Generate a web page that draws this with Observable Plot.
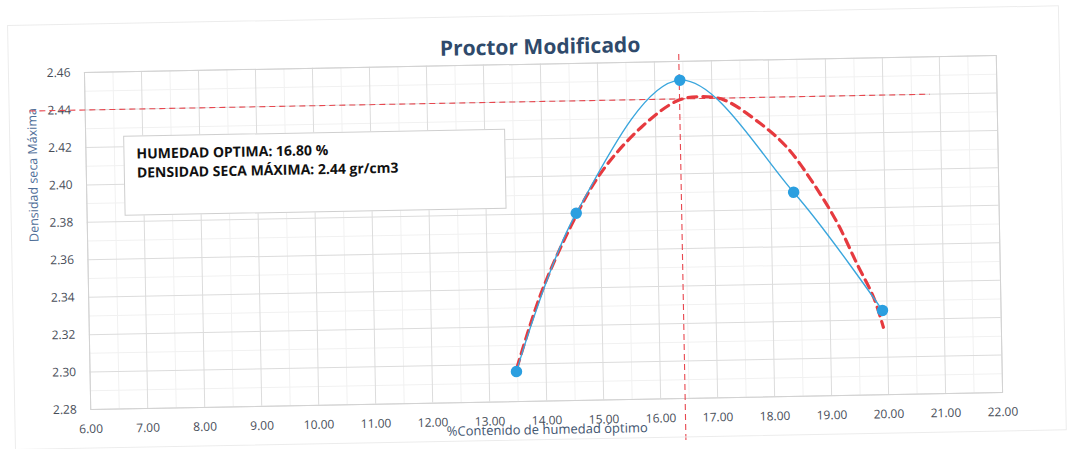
<!DOCTYPE html>
<html>
<head>
<meta charset="utf-8">
<script src="https://cdn.jsdelivr.net/npm/d3@7"></script>
<script src="https://cdn.jsdelivr.net/npm/@observablehq/plot@0.6"></script>
<style>
  html, body { margin: 0; padding: 0; background: #ffffff; overflow: hidden; }
  #wrap { position: relative; width: 1072px; height: 449px; transform: rotate(-1.07deg); transform-origin: 544px 231.5px; font-family: "Open Sans", sans-serif; }
  #chart svg { display: block; }
  #outer { position: absolute; left: 11px; top: 15px; width: 1050px; height: 423px; border: 1px solid #ececec; pointer-events: none; }
  #box { position: absolute; left: 125px; top: 128px; width: 382px; height: 80px; border: 1px solid #cfcfcf; background: #ffffff; box-sizing: border-box; padding: 7px 0 0 12px; font-family: "Open Sans", sans-serif; font-weight: 700; font-size: 14px; line-height: 19px; color: #111111; }
</style>
</head>
<body>
<div id="wrap">
  <div id="outer"></div>
  <div id="chart"></div>
  <div id="box"><div id="l1"></div><div id="l2"></div></div>
</div>
<script>
// Measured points (blue)
const humedad = [13.48, 14.58, 16.44, 18.40, 19.92];
const densidad = [2.296, 2.380, 2.450, 2.389, 2.325];

// Fitted curve (red dashed)
const ajusteX = [13.49, 13.93, 14.48, 15.02, 15.74, 16.39, 16.80, 17.21, 17.84, 18.30, 18.76, 19.16, 19.49, 19.77, 19.93];
const ajusteY = [2.298, 2.337, 2.373, 2.401, 2.425, 2.439, 2.441, 2.439, 2.426, 2.413, 2.393, 2.372, 2.350, 2.332, 2.316];

// Reference lines
const refDensidad = [2.44];
const refDensidadX = [5.03, 20.83];
const refHumedad = [16.43];
const refHumedadY = [2.2575, 2.4658];

// Results
const humedadOptima = 16.80;
const densidadMaxima = 2.44;

// Tick labels
const xTicks = [6, 7, 8, 9, 10, 11, 12, 13, 14, 15, 16, 17, 18, 19, 20, 21, 22];
const yTicks = [2.28, 2.30, 2.32, 2.34, 2.36, 2.38, 2.40, 2.42, 2.44, 2.46];
const xMinor = [6.5, 7.5, 8.5, 9.5, 10.5, 11.5, 12.5, 13.5, 14.5, 15.5, 16.5, 17.5, 18.5, 19.5, 20.5, 21.5];
const yMinor = [2.29, 2.31, 2.33, 2.35, 2.37, 2.39, 2.41, 2.43, 2.45];

const title = "Proctor Modificado";
const xLabel = "%Contenido de humedad óptimo";
const yLabel = "Densidad seca Máxima";

const puntos = humedad.map((x, i) => ({x, y: densidad[i]}));
const ajuste = ajusteX.map((x, i) => ({x, y: ajusteY[i]}));

const tickColor = "#474d58";

const chart = Plot.plot({
  width: 1072,
  height: 449,
  marginLeft: 87,
  marginRight: 73,
  marginTop: 63.5,
  marginBottom: 48.5,
  style: { fontFamily: "Open Sans, sans-serif", background: "transparent", overflow: "visible" },
  x: { domain: [6, 22] },
  y: { domain: [2.28, 2.46] },
  marks: [
    Plot.gridX(xMinor, { stroke: "#f1f1f1", strokeOpacity: 1 }),
    Plot.gridY(yMinor, { stroke: "#f1f1f1", strokeOpacity: 1 }),
    Plot.gridX(xTicks, { stroke: "#dcdcdc", strokeOpacity: 1 }),
    Plot.gridY(yTicks, { stroke: "#dcdcdc", strokeOpacity: 1 }),
    Plot.frame({ stroke: "#d2d2d2" }),
    Plot.axisX(xTicks, { tickSize: 0, tickPadding: 15, tickFormat: d => d.toFixed(2), fontSize: 12, fill: tickColor, label: null }),
    Plot.axisY(yTicks, { tickSize: 0, tickPadding: 14, tickFormat: d => d.toFixed(2), fontSize: 12, fill: tickColor, label: null }),
    Plot.text([xLabel], { frameAnchor: "bottom", text: d => d, dy: 33, fontSize: 13, fill: "#3f5570" }),
    Plot.text([yLabel], { frameAnchor: "left", text: d => d, rotate: -90, dx: -53, fontSize: 12.5, fill: "#4f6e98" }),
    Plot.text([title], { frameAnchor: "top", text: d => d, dy: -25, fontSize: 21, fontWeight: "bold", fill: "#2f4a6b" }),
    Plot.ruleY(refDensidad, { x1: refDensidadX[0], x2: refDensidadX[1], stroke: "#e8474f", strokeWidth: 1.1, strokeDasharray: "6,4" }),
    Plot.ruleX(refHumedad, { y1: refHumedadY[0], y2: refHumedadY[1], stroke: "#e8474f", strokeWidth: 1.1, strokeDasharray: "6,4" }),
    Plot.line(ajuste, { x: "x", y: "y", curve: "catmull-rom", stroke: "#e63a3f", strokeWidth: 3.2, strokeDasharray: "9,6" }),
    Plot.line(puntos, { x: "x", y: "y", curve: "catmull-rom", stroke: "#3aa6dd", strokeWidth: 1.4 }),
    Plot.dot(puntos, { x: "x", y: "y", r: 5, fill: "#2b9fe0", stroke: "#2b9fe0" })
  ]
});
document.getElementById("chart").appendChild(chart);
document.getElementById("l1").textContent = `HUMEDAD OPTIMA: ${humedadOptima.toFixed(2)} %`;
document.getElementById("l2").textContent = `DENSIDAD SECA MÁXIMA: ${densidadMaxima.toFixed(2)} gr/cm3`;
</script>
</body>
</html>
